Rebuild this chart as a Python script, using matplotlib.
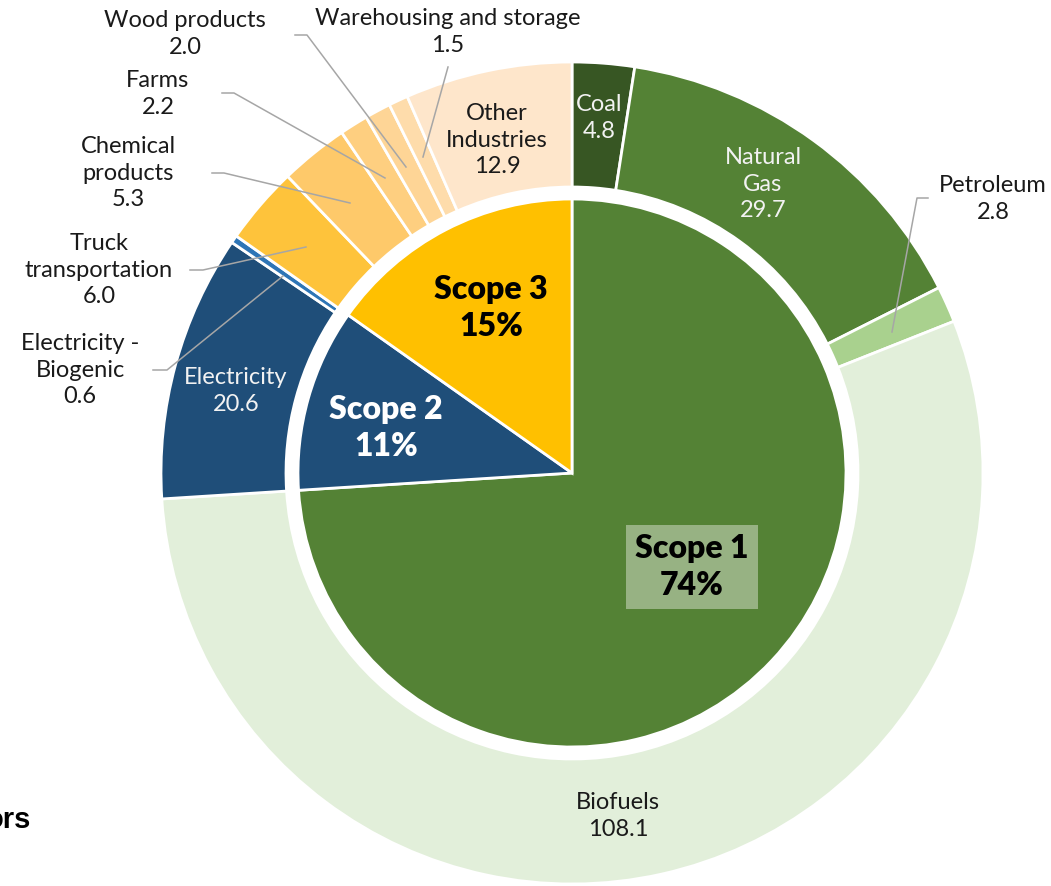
import matplotlib.pyplot as plt

# outer ring: emissions by source (clockwise from top)
sources = ["Coal", "Natural\nGas", "Petroleum", "Biofuels", "Electricity",
           "Electricity -\nBiogenic", "Truck\ntransportation", "Chemical\nproducts",
           "Farms", "Wood products", "Warehousing and storage", "Other\nIndustries"]
source_vals = [4.8, 29.7, 2.8, 108.1, 20.6, 0.6, 6.0, 5.3, 2.2, 2.0, 1.5, 12.9]
source_colors = ["#375623", "#548235", "#A9D18E", "#E2EFDA", "#1F4E79", "#2E75B6",
                 "#FEC33B", "#FEC96A", "#FECF80", "#FED596", "#FEDCAB", "#FEE6CB"]

# inner pie: scopes
scopes = ["Scope 1", "Scope 2", "Scope 3"]
scope_vals = [sum(source_vals[0:4]), sum(source_vals[4:6]), sum(source_vals[6:])]
scope_colors = ["#548235", "#1F4E79", "#FFC000"]

W, H = 1051, 886
fig = plt.figure(figsize=(W / 100, H / 100), dpi=100)
ax = fig.add_axes([0, 0, 1, 1])

def px(x, y):
    return x, H - y

cx, cy = px(572, 473)
ax.pie(source_vals, colors=source_colors, startangle=90, counterclock=False,
       center=(cx, cy), radius=411, frame=True,
       wedgeprops=dict(width=125, edgecolor="white", linewidth=2))
ax.pie(scope_vals, colors=scope_colors, startangle=90, counterclock=False,
       center=(cx, cy), radius=274, frame=True,
       wedgeprops=dict(edgecolor="white", linewidth=2))
ax.set_xlim(0, W)
ax.set_ylim(0, H)
ax.set_aspect("equal")
ax.axis("off")

font = "Lato"
fs = 17

# data labels: (x, y) in pixels, colour
label_pos = [(599, 118, "#F2F2F2"), (763, 184, "#F2F2F2"), (993, 199, "#1a1a1a"),
             (618, 816, "#1a1a1a"), (236, 391, "#F2F2F2"), (80, 370, "#1a1a1a"),
             (99, 270, "#1a1a1a"), (128, 173, "#1a1a1a"), (158, 94, "#1a1a1a"),
             (185, 34, "#1a1a1a"), (448, 32, "#1a1a1a"), (497, 140, "#1a1a1a")]
for name, v, (x, y, c) in zip(sources, source_vals, label_pos):
    ax.text(*px(x, y), f"{name}\n{v:.1f}", ha="center", va="center", color=c,
            fontsize=fs, family=font, linespacing=1.35)

# leader lines
leaders = [
    [(928, 198), (917, 198), (892, 332)],
    [(153, 370), (167, 370), (283, 276)],
    [(190, 270), (203, 270), (306, 247)],
    [(212, 173), (224, 173), (350, 203)],
    [(222, 93), (234, 93), (385, 178)],
    [(295, 35), (307, 35), (406, 167)],
    [(448, 67), (423, 157)],
]
for pts in leaders:
    xs = [p[0] for p in pts]
    ys = [H - p[1] for p in pts]
    ax.plot(xs, ys, color="#A6A6A6", lw=1.1, zorder=5)

# scope labels
total = sum(source_vals)
scope_pos = [(692, 567, "black"), (386, 428, "white"), (491, 308, "black")]
for name, v, (x, y, c) in zip(scopes, scope_vals, scope_pos):
    bbox = None
    if name == "Scope 1":
        bbox = dict(boxstyle="square,pad=0.3", fc="#97B283", ec="none")
    ax.text(*px(x, y), f"{name}\n{v / total * 100:.0f}%", ha="center", va="center",
            color=c, fontsize=23, family=font, weight="heavy", linespacing=1.3,
            bbox=bbox, zorder=6)

# clipped title fragment at the bottom left
ax.text(*px(31, 820), "ors", ha="right", va="center", fontsize=21,
        family="Liberation Sans", weight="bold", color="black")

plt.savefig("out.png", dpi=100)
